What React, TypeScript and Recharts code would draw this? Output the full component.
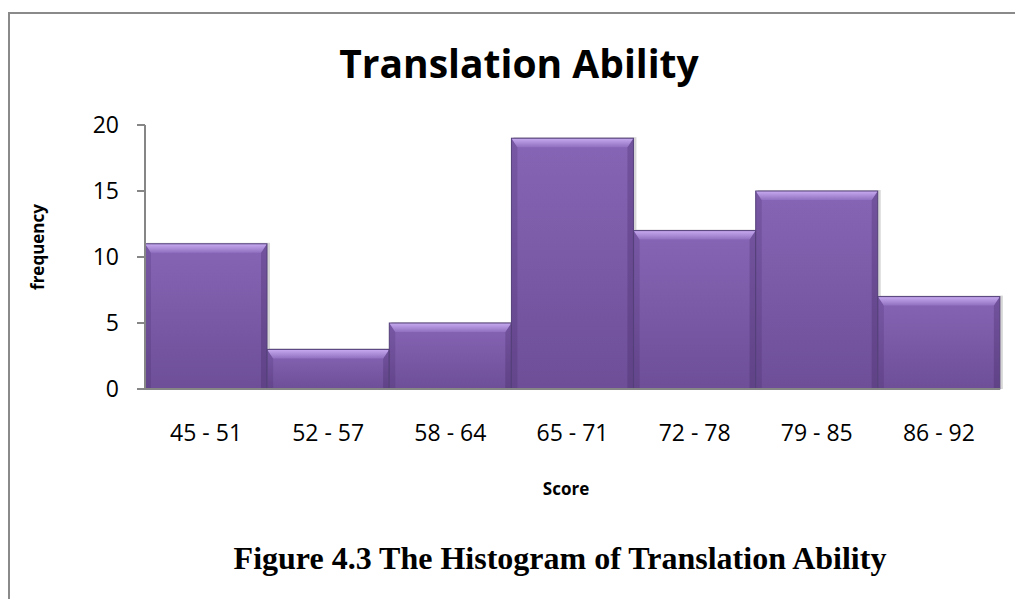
import React from 'react';
import { BarChart, Bar, XAxis, YAxis } from 'recharts';

const categories = ['45 - 51', '52 - 57', '58 - 64', '65 - 71', '72 - 78', '79 - 85', '86 - 92'];
const frequencies = [11, 3, 5, 19, 12, 15, 7];
const yTicks = [0, 5, 10, 15, 20];

const data = categories.map((c, i) => ({ range: c, frequency: frequencies[i] }));

const BevelBar = (props: any) => {
  const { x, y, width, height } = props;
  if (!height || height <= 0) return null;
  const b = Math.min(9, height / 2);
  const s = Math.min(6, width / 4);
  return (
    <g>
      <rect x={x + 2} y={y - 1} width={width + 1} height={height + 1} fill="rgba(0,0,0,0.16)" />
      <rect x={x} y={y} width={width} height={height} fill="url(#barBody)" />
      <polygon
        points={`${x},${y} ${x + s},${y + b} ${x + s},${y + height} ${x},${y + height}`}
        fill="rgba(60,35,95,0.2)"
      />
      <polygon
        points={`${x + width},${y} ${x + width - s},${y + b} ${x + width - s},${y + height} ${x + width},${y + height}`}
        fill="rgba(60,35,95,0.28)"
      />
      <polygon
        points={`${x},${y} ${x + width},${y} ${x + width - s},${y + b} ${x + s},${y + b}`}
        fill="url(#barTop)"
      />
      <rect x={x} y={y} width={width} height={height} fill="none" stroke="#54407a" strokeWidth={1} />
    </g>
  );
};

export default function App() {
  return (
    <div style={{ position: 'relative', width: 1015, height: 591, background: '#fff' }}>
      <div
        style={{
          position: 'absolute',
          left: 0,
          top: 4,
          width: 1015,
          height: 600,
          borderTop: '2px solid #8a8a8a',
          borderLeft: '2px solid #8a8a8a',
          boxSizing: 'border-box',
        }}
      />
      <div style={{ position: 'absolute', left: 0, top: 0 }}>
        <BarChart
          width={1015}
          height={591}
          data={data}
          margin={{ top: 117, right: 23, bottom: 180, left: 77 }}
          barCategoryGap={0}
          barGap={0}
        >
          <defs>
            <linearGradient id="barBody" x1="0" y1="0" x2="0" y2="1">
              <stop offset="0%" stopColor="#8765b6" />
              <stop offset="100%" stopColor="#6d4e97" />
            </linearGradient>
            <linearGradient id="barTop" x1="0" y1="0" x2="0" y2="1">
              <stop offset="0%" stopColor="#c7abf0" />
              <stop offset="100%" stopColor="#9070c0" />
            </linearGradient>
          </defs>
          <XAxis
            dataKey="range"
            height={30}
            tickLine={false}
            tickSize={0}
            tickMargin={36}
            axisLine={{ stroke: '#868686', strokeWidth: 2 }}
            tick={{ fill: '#000', fontSize: 23, fontFamily: 'Open Sans' }}
            interval={0}
          />
          <YAxis
            width={60}
            domain={[0, 20]}
            ticks={yTicks}
            tickSize={8}
            tickMargin={18}
            axisLine={{ stroke: '#868686', strokeWidth: 2 }}
            tickLine={{ stroke: '#868686', strokeWidth: 2 }}
            tick={{ fill: '#000', fontSize: 23, fontFamily: 'Open Sans' }}
          />
          <Bar dataKey="frequency" shape={BevelBar} isAnimationActive={false} />
        </BarChart>
      </div>
      <svg
        width={1015}
        height={591}
        style={{ position: 'absolute', left: 0, top: 0, pointerEvents: 'none' }}
      >
        <text x={511} y={70} textAnchor="middle" fontFamily="Open Sans" fontWeight="bold" fontSize={39} fill="#000">
          Translation Ability
        </text>
        <text
          x={29}
          y={239}
          transform="rotate(-90 29 239)"
          textAnchor="middle"
          dominantBaseline="central"
          fontFamily="Open Sans"
          fontWeight="bold"
          fontSize={17}
          fill="#000"
        >
          frequency
        </text>
        <text x={558} y={487} textAnchor="middle" fontFamily="Open Sans" fontWeight="bold" fontSize={17} fill="#000">
          Score
        </text>
        <text x={552} y={561} textAnchor="middle" fontFamily="Liberation Serif" fontWeight="bold" fontSize={32} fill="#000">
          Figure 4.3 The Histogram of Translation Ability
        </text>
      </svg>
    </div>
  );
}
